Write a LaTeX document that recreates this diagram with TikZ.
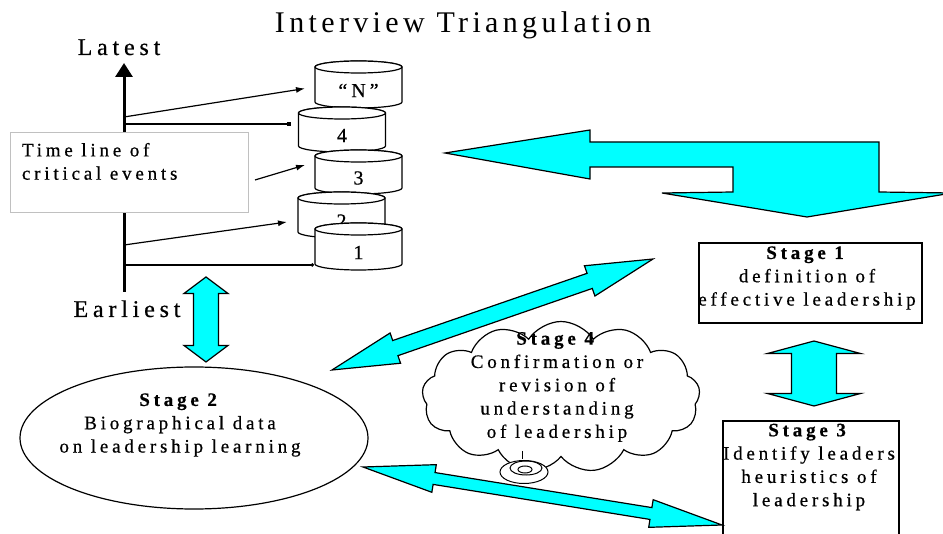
\documentclass[tikz,border=0pt]{standalone}
\usepackage{fontspec}
\setmainfont{Liberation Serif}
\newfontfamily\spaced{Liberation Serif}[LetterSpace=20, FakeBold=0.6]
\newfontfamily\titlefont{Liberation Serif}[LetterSpace=14.5]
\usetikzlibrary{shapes.symbols, shapes.geometric, arrows.meta, calc}
\definecolor{aqua}{HTML}{00FFFF}
\definecolor{boxgray}{HTML}{C0C0C0}

% double-headed block arrow: from, to, head length, head half-width, shaft half-width
\newcommand\blockdbl[5]{%
  \draw[blockarrow] (#1)
    -- ($(#1)!#3!(#2)!#4!90:(#2)$)
    -- ($(#1)!#3!(#2)!#5!90:(#2)$)
    -- ($(#2)!#3!(#1)!#5!-90:(#1)$)
    -- ($(#2)!#3!(#1)!#4!-90:(#1)$)
    -- (#2)
    -- ($(#2)!#3!(#1)!#4!90:(#1)$)
    -- ($(#2)!#3!(#1)!#5!90:(#1)$)
    -- ($(#1)!#3!(#2)!#5!-90:(#2)$)
    -- ($(#1)!#3!(#2)!#4!-90:(#2)$)
    -- cycle;}

\begin{document}
\begin{tikzpicture}[x=1pt, y=-1pt,
  every node/.style={inner sep=0pt, outer sep=0pt},
  lbl/.style={font={\spaced\fontsize{19}{23.3}\selectfont}, align=center},
  bigword/.style={font={\spaced\fontsize{24}{28}\selectfont}},
  frame/.style={draw, line width=1.2pt, fill=white},
  drum/.style={draw, line width=1.2pt, fill=white},
  drumlabel/.style={font={\spaced\fontsize{20}{24}\selectfont}, minimum width=87pt},
  feed/.style={line width=1.2pt, -{Latex[length=9pt,width=6pt]}},
  tick/.style={line width=1.2pt},
  timeline/.style={line width=3pt, -{Triangle[length=14pt,width=17pt]}},
  blockarrow/.style={draw, line width=1.2pt, fill=aqua, line join=miter},
]
\useasboundingbox (0,0) rectangle (943,534);
\clip (0,0) rectangle (943,534);

% title
\node[font={\titlefont\fontsize{30}{34}\selectfont}, anchor=base] (title) at (463,33) {Interview Triangulation};

% time line
\coordinate (tbot) at (124,292);
\coordinate (ttop) at (124,63);
\coordinate (tN) at (124,117);
\coordinate (t4) at (124,124);
\coordinate (t2) at (124,245);
\coordinate (t1) at (124,265);
\draw[timeline] (tbot) -- (ttop);
\node[bigword, anchor=base] (latest) at (119,55) {Latest};
\node[bigword, anchor=base] (earliest) at (127,317) {Earliest};

% stack of event drums
\foreach \nm/\cx/\yt/\yb/\txt in {cN/358.5/67/108/{“N”}, c4/342/113/152/4, c3/358.5/156/194/3, c2/341.5/198/238/2, c1/358.5/229/270/1}{
  \path[drum] (\cx-43.5,\yt) -- (\cx-43.5,\yb-6)
     arc[start angle=180, end angle=0, x radius=43.5, y radius=6]
     -- (\cx+43.5,\yt)
     arc[start angle=0, end angle=-180, x radius=43.5, y radius=6] -- cycle;
  \draw[drum] (\cx,\yt) ellipse[x radius=43.5, y radius=6];
  \node[drumlabel, minimum height={\yb-\yt}] (\nm) at (\cx,{(\yt+\yb)/2+3}) {\txt};
}

% caption box
\node[draw=boxgray, line width=1pt, fill=white, minimum width=238pt, minimum height=80pt] (tlbox) at (129,173) {};
\node[lbl, align=left, anchor=north west] (tltext) at (22,143) {Time line of\\critical events};

% feeds from the time line to the drums
\draw[feed] (tN) -- ($(cN.west)+(-10,-2)$);
\draw[tick, -{Square[length=3.5pt,width=3.5pt]}] (t4) -- ($(c4.west |- t4)+(-8,0)$);
\draw[feed] ($(tlbox.east)+(7,7)$) -- ($(c3.west)+(-10,-13)$);
\draw[feed] (t2) -- ($(c2.west)+(-11,1)$);
\draw[tick, -{Circle[length=3.5pt,width=3.5pt]}] (t1) -- ($(c1.west |- t1)+(-1,0)$);

% bent arrow into stage 1
\draw[blockarrow] (445,153) -- (590,130) -- (590,142) -- (879,142) -- (879,192)
  -- (952,193) -- (807,217) -- (662,193) -- (733,192) -- (733,167)
  -- (590,167) -- (590,179) -- cycle;

% stage 1
\node[frame, minimum width=223pt, minimum height=80pt] (s1box) at (810.5,283) {};
\node[lbl] (s1) at (807,278) {\textbf{Stage 1}\\definition of\\effective leadership};

% stage 3
\node[frame, minimum width=176pt, minimum height=130pt] (s3box) at (811,486) {};
\node[lbl] (s3) at (809,467) {\textbf{Stage 3}\\Identify leaders\\heuristics of\\leadership};

% stage 2
\node[draw, line width=1.2pt, fill=white, ellipse, minimum width=348pt, minimum height=142pt] (s2box) at (194,438) {};
\node[lbl] (s2) at (180,425) {\textbf{Stage 2}\\Biographical data\\on leadership learning};

% stage 4 cloud with its bubble
\node[cloud, draw, line width=1.2pt, fill=white, cloud puffs=13, cloud puff arc=115,
      cloud ignores aspect, minimum width=278pt, minimum height=151pt] (s4box) at (561,397) {};
\node[lbl] (s4) at (557,387) {\textbf{Stage 4}\\Confirmation or\\revision of\\understanding\\of leadership};

% block double arrows between stages
\coordinate (vaT) at (206,277);
\coordinate (vaB) at (206,362);
\coordinate (vbT) at (814,341);
\coordinate (vbB) at (814,406);
\coordinate (daA) at (332,370);
\coordinate (daB) at (653,259);
\coordinate (dbA) at (363,467);
\coordinate (dbB) at (722,525);
\blockdbl{vaT}{vaB}{16.5pt}{22pt}{12.5pt}
\blockdbl{vbT}{vbB}{12.5pt}{46.5pt}{22.5pt}
\blockdbl{daA}{daB}{67pt}{16pt}{8pt}
\blockdbl{dbA}{dbB}{72pt}{14pt}{6pt}

\draw[line width=1pt, fill=white] (524,472) ellipse[x radius=24, y radius=11.5];
\draw[line width=1pt] (526,468) ellipse[x radius=16, y radius=7];
\draw[line width=1pt] (525,469.5) ellipse[x radius=7, y radius=3.5];
\draw[line width=1pt] (522,451) -- (522,459);
\end{tikzpicture}
\end{document}
